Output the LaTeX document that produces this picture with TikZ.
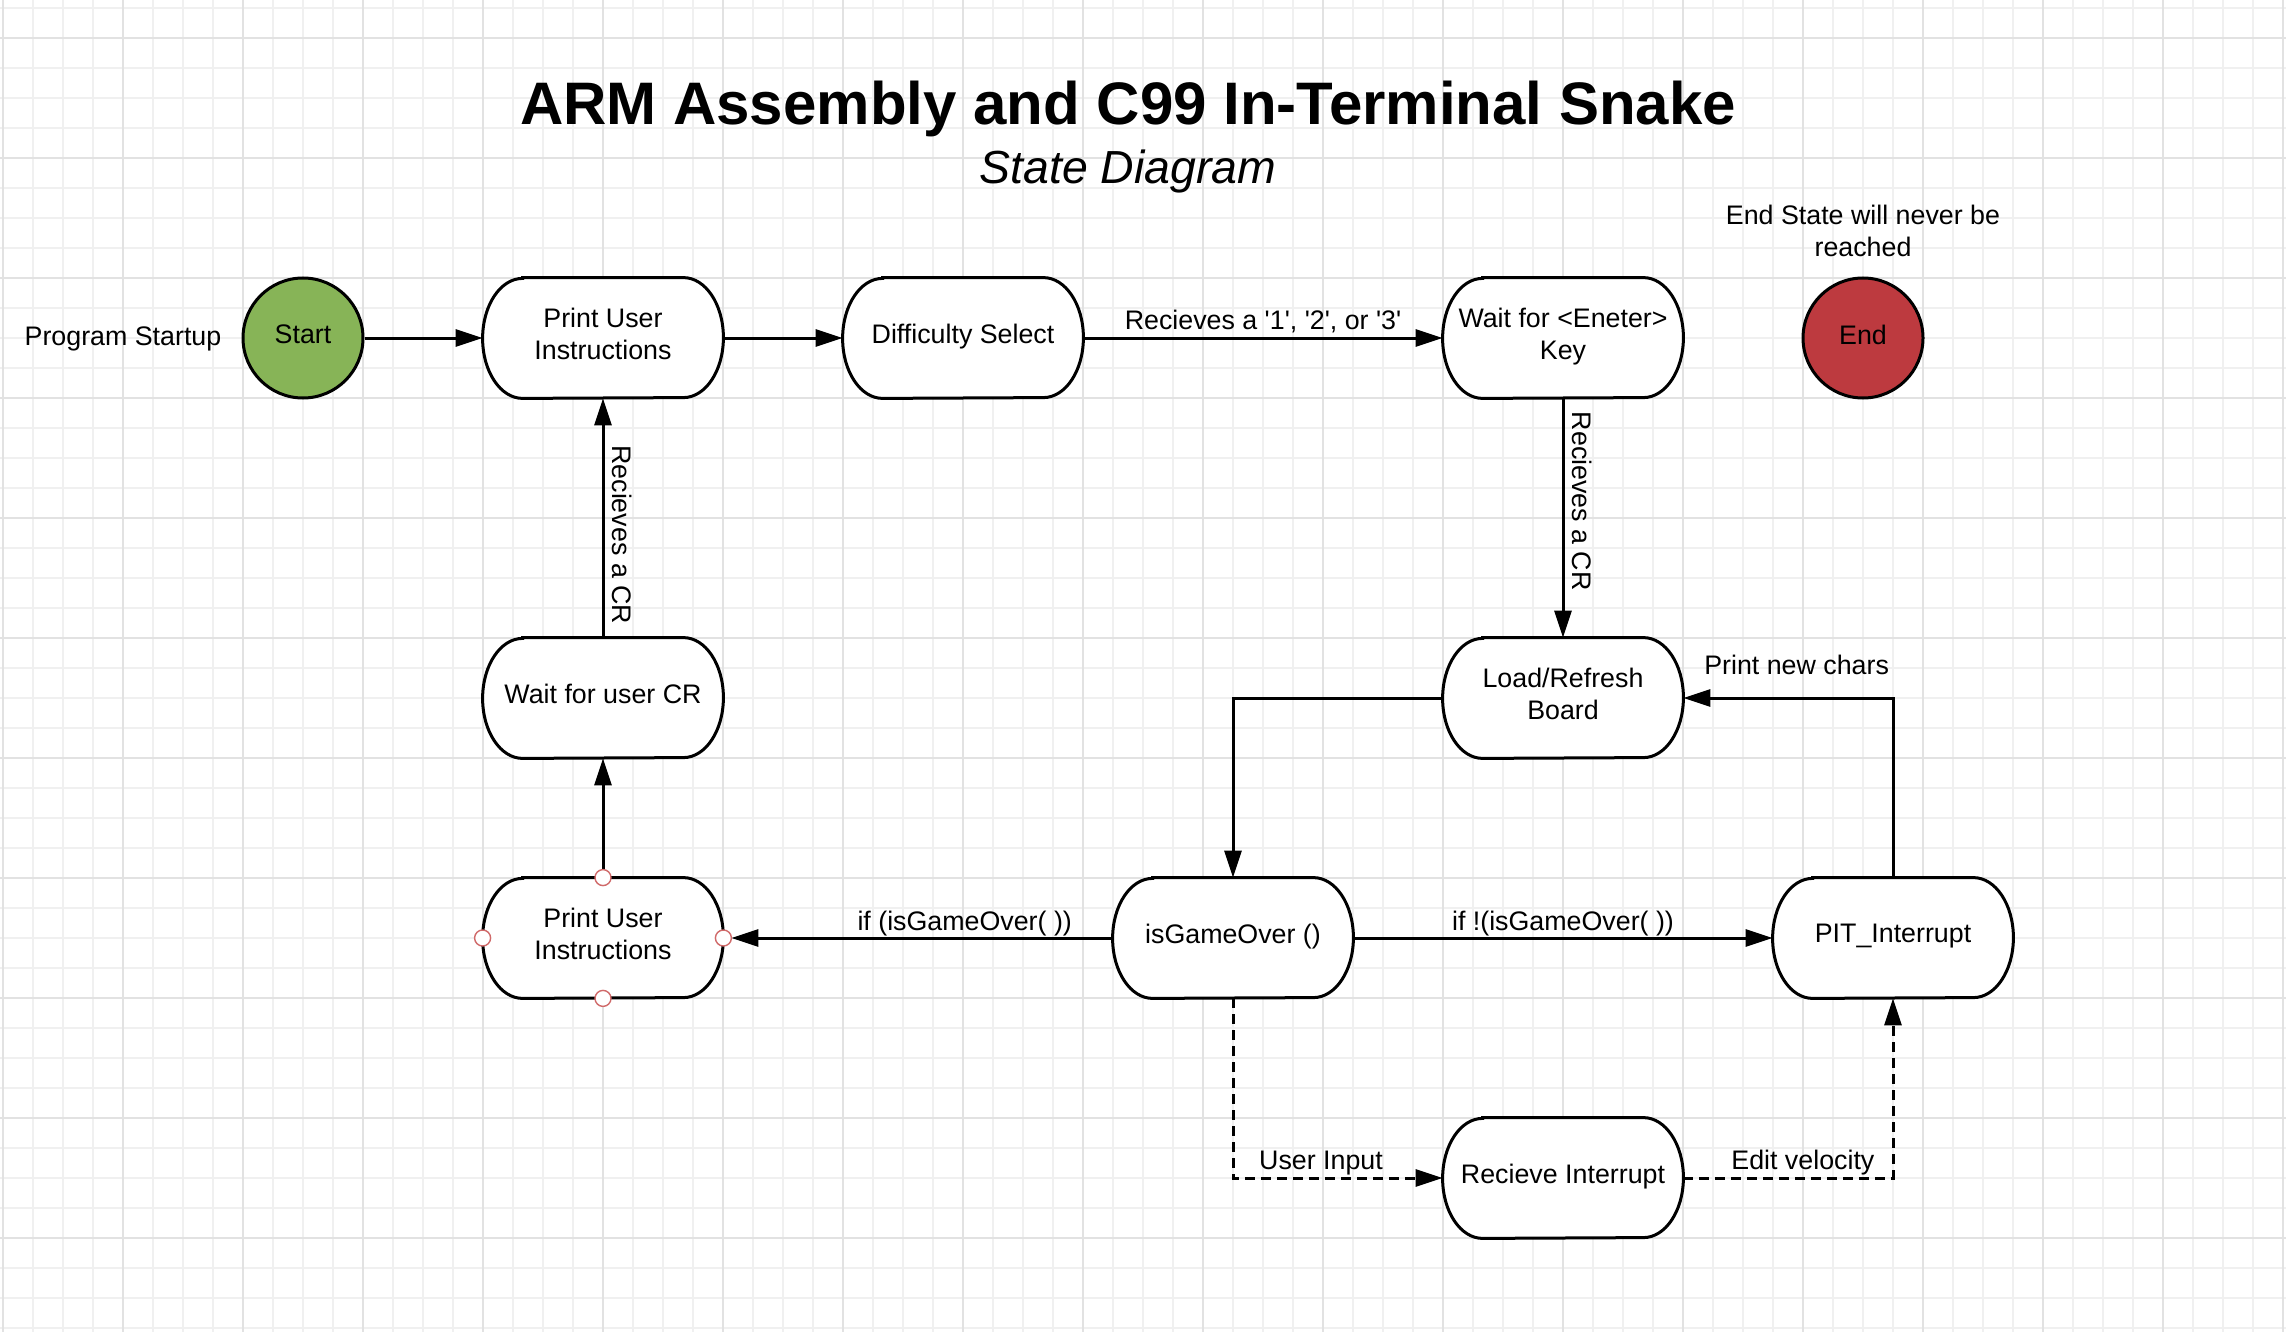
\documentclass[tikz,border=0pt]{standalone}
\usepackage{fontspec}
\setmainfont{Liberation Sans}
\usetikzlibrary{arrows.meta,calc}
\pgfdeclarelayer{gridlayer}
\pgfdeclarelayer{bglayer}
\pgfsetlayers{gridlayer,bglayer,main}
\definecolor{gridminor}{HTML}{F0F0F0}
\definecolor{gridmajor}{HTML}{E2E2E2}
\definecolor{startgreen}{HTML}{87B457}
\definecolor{endred}{HTML}{BD3A3F}
\definecolor{portred}{HTML}{D06A6A}
\newcommand\stadiumoutline[1]{%
  \draw[stateborder] ([xshift=20pt]#1.north west) -- ([xshift=-20pt]#1.north east)
    arc[start angle=90, end angle=-90, x radius=20pt, y radius=30pt]
    -- ([xshift=20pt]#1.south west)
    arc[start angle=270, end angle=90, x radius=20pt, y radius=30pt] -- cycle;}
\tikzset{
  bodyfont/.style={font=\fontsize{13.4}{16}\selectfont},
  statebox/.style={bodyfont, align=center, minimum width=120pt, minimum height=60pt,
    inner sep=0pt, text depth=4.5pt},
  stateborder/.style={draw=black, fill=white, line width=1.5pt},
  termcircle/.style={bodyfont, circle, draw=black, line width=1.5pt, minimum size=60pt,
    inner sep=0pt, text depth=3.5pt},
  arr/.style={line width=1.5pt, -{Triangle[length=13.5pt,width=8.5pt]}},
  dasharr/.style={arr, dash pattern=on 5pt off 3pt},
  lbl/.style={bodyfont, inner sep=0pt},
  vlbl/.style={bodyfont, inner sep=4pt, rotate=-90, anchor=south},
  port/.style={draw=portred, fill=white, line width=0.7pt},
}
\begin{document}
\begin{tikzpicture}[x=0.5pt, y=-0.5pt]
\useasboundingbox (0,0) rectangle (2286,1332);
\begin{pgfonlayer}{gridlayer}
  \fill[white] (0,0) rectangle (2286,1332);
  \foreach \x in {3,33,...,2283} \draw[gridminor, line width=0.55pt] (\x,0) -- (\x,1332);
  \foreach \y in {8,38,...,1328} \draw[gridminor, line width=0.55pt] (0,\y) -- (2286,\y);
  \foreach \x in {3,123,...,2283} \draw[gridmajor, line width=0.55pt] (\x,0) -- (\x,1332);
  \foreach \y in {38,158,...,1328} \draw[gridmajor, line width=0.55pt] (0,\y) -- (2286,\y);
\end{pgfonlayer}

% titles
\node[anchor=base, inner sep=0pt, font=\fontsize{30}{35}\selectfont\bfseries] (title) at (1128,125) {ARM Assembly and C99 In-Terminal Snake};
\node[anchor=base, inner sep=0pt, font=\fontsize{23.2}{27}\selectfont\itshape] (subtitle) at (1128,184) {State Diagram};

% free texts
\node[lbl, anchor=base] (startup) at (123,345) {Program Startup};
\node[lbl, align=center] (endnote) at (1863,231) {End State will never be\\reached};

% states
\node[termcircle, fill=startgreen] (start) at (303,338) {Start};
\node[termcircle, fill=endred] (end) at (1863,338) {End};
\node[statebox] (pui1) at (603,338) {Print User\\Instructions};
\node[statebox] (diff) at (963,338) {Difficulty Select};
\node[statebox] (wait) at (1563,338) {Wait for <Eneter>\\Key};
\node[statebox] (wcr) at (603,698) {Wait for user CR};
\node[statebox] (load) at (1563,698) {Load/Refresh\\Board};
\node[statebox] (pui2) at (603,938) {Print User\\Instructions};
\node[statebox] (igo) at (1233,938) {isGameOver ()};
\node[statebox] (pit) at (1893,938) {PIT\_Interrupt};
\node[statebox] (rec) at (1563,1178) {Recieve Interrupt};

\begin{pgfonlayer}{bglayer}
  \foreach \n in {pui1,diff,wait,wcr,load,pui2,igo,pit,rec} {\stadiumoutline{\n}}
\end{pgfonlayer}

% connectors
\draw[arr] (start) -- (pui1);
\draw[arr] (pui1) -- (diff);
\draw[arr] (diff) -- node[lbl, pos=0.5, anchor=base, yshift=4.5pt]
  {Recieves a \textquotesingle1\textquotesingle, \textquotesingle2\textquotesingle, or \textquotesingle3\textquotesingle} (wait);
\draw[arr] (wait) -- node[vlbl, pos=0.43] {Recieves a CR} (load);
\draw[arr] (wcr) -- node[vlbl, pos=0.43] {Recieves a CR} (pui1);
\draw[arr] (pui2) -- (wcr);
\draw[arr, shorten >=4pt] (igo) -- node[lbl, pos=0.38, anchor=base, yshift=4pt] {if (isGameOver( ))} (pui2);
\draw[arr] (igo) -- node[lbl, pos=0.5, anchor=base, yshift=4pt] {if !(isGameOver( ))} (pit);
\draw[arr] (load.west) -| (igo.north);
\draw[arr] (pit.north) |- node[lbl, pos=0.73, anchor=base, yshift=12pt] {Print new chars} (load.east);
\draw[dasharr] (igo.south) |- node[lbl, pos=0.71, anchor=base, yshift=4.5pt] {User Input} (rec.west);
\draw[dasharr] (rec.east) -| node[lbl, pos=0.285, anchor=base, yshift=4.5pt] {Edit velocity} (pit.south);

% connection points on the selected state
\foreach \a in {north,south,east,west} \draw[port] (pui2.\a) circle[radius=4pt];
\end{tikzpicture}
\end{document}
